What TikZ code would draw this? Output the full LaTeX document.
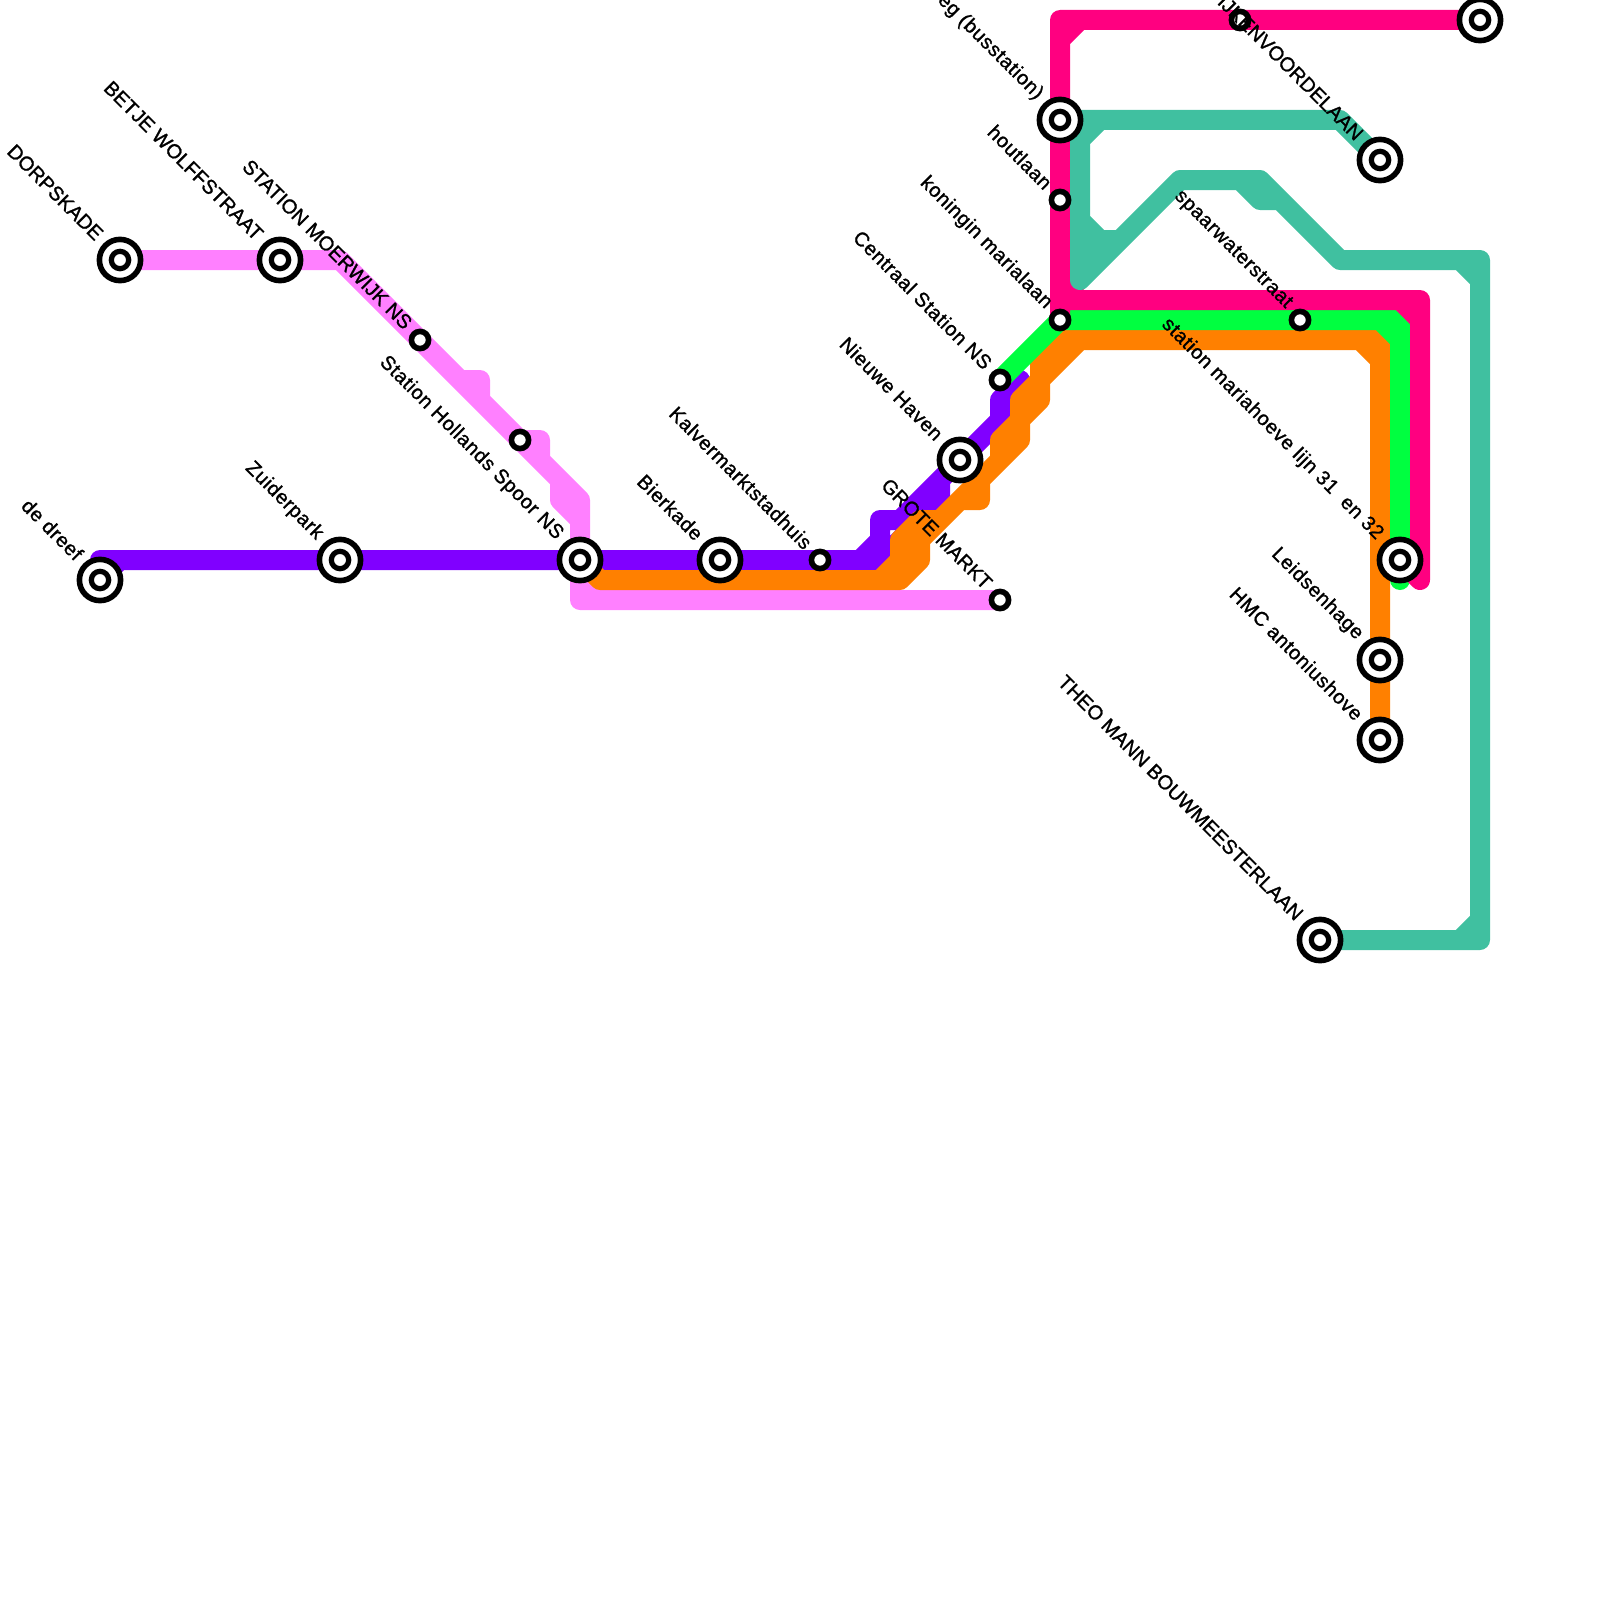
\documentclass[tikz,border=0pt]{standalone}
\usepackage{fontspec}
\setmainfont{Liberation Sans}[FakeBold=1.2]
\newfontfamily\lowerfont{Liberation Sans}[LetterSpace=3,FakeBold=1.2]
\usetikzlibrary{calc}
\pgfdeclarelayer{lines}
\pgfsetlayers{lines,main}
\definecolor{lpink}{HTML}{FF80FF}
\definecolor{lpurple}{HTML}{8000FF}
\definecolor{lorange}{HTML}{FF8000}
\definecolor{lgreen}{HTML}{00FF40}
\definecolor{lred}{HTML}{FF0080}
\definecolor{lteal}{HTML}{40C0A0}

\begin{document}
\begin{tikzpicture}[x=0.5pt, y=-0.5pt,
    mline/.style={line width=10pt, line join=round, line cap=round},
    stop/.style={circle, draw=black, fill=white, line width=2.8pt, inner sep=0pt, outer sep=0pt, minimum size=8.6pt},
    hub/.style={stop, minimum size=20.6pt,
                path picture={\draw[line width=2.6pt] (path picture bounding box.center) circle (4.35pt);}},
    lbl/.style={font=\fontsize{10pt}{12pt}\selectfont, anchor=east, rotate=-45, inner sep=0pt},
    lbllow/.style={lbl, font=\fontsize{10pt}{12pt}\lowerfont}]
    \useasboundingbox (0,0) rectangle (1600,1600);
    % stations
    \node[hub] (dorpskade) at (120,260) {};
    \node[hub] (betje) at (280,260) {};
    \node[stop] (moerwijk) at (420,340) {};
    \node[stop] (hollands) at (520,440) {};
    \node[hub] (hsns) at (580,560) {};
    \node[hub] (dreef) at (100,580) {};
    \node[hub] (zuiderpark) at (340,560) {};
    \node[hub] (bierkade) at (720,560) {};
    \node[stop] (kalver) at (820,560) {};
    \node[stop] (grote) at (1000,600) {};
    \node[hub] (haven) at (960,460) {};
    \node[stop] (centraal) at (1000,380) {};
    \node[stop] (koningin) at (1060,320) {};
    \node[stop] (houtlaan) at (1060,200) {};
    \node[hub] (bus) at (1060,120) {};
    \node[stop] (dijk) at (1240,20) {};
    \node[hub] (topright) at (1480,20) {};
    \node[hub] (voorde) at (1380,160) {};
    \node[stop] (spaar) at (1300,320) {};
    \node[hub] (maria) at (1400,560) {};
    \node[hub] (leidsen) at (1380,660) {};
    \node[hub] (hmc) at (1380,740) {};
    \node[hub] (theo) at (1320,940) {};
    % lines
    \begin{pgfonlayer}{lines}
    \draw[mline, lpink] (dorpskade.center) -- (betje.center) -- (340,260) -- (moerwijk.center)
      -- (hollands.center) -- (580,500) -- (hsns.center) -- (580,600) -- (grote.center)
      (460,380) -- (480,380) -- (480,400)
      (hollands.center) -- (540,440) -- (540,460)
      (560,480) -- (560,500) -- (580,520)
      (580,580) -- (600,600);
    \draw[mline, lpurple] (centraal.center) ++(20,0) -- (1000,400) -- (1000,420) -- (haven.center)
      -- (940,480) -- (940,500) -- (880,560) -- (kalver.center) -- (bierkade.center) -- (hsns.center)
      -- (zuiderpark.center) -- (100,560) -- (dreef.center)
      (dreef.center) -- (120,560)
      (haven.center) -- (900,520) -- (880,520) -- (880,540) -- (860,560);
    \draw[mline, lorange] (hmc.center) -- (leidsen.center) -- (1380,360) -- (1360,340) -- (1060,340)
      -- (1040,360) -- (1040,400) -- (1020,420) -- (1020,440) -- (920,540) -- (920,560) -- (900,580)
      -- (600,580) -- (hsns.center)
      (1380,360) -- (1380,340) -- (1360,340)
      (1080,340) -- (1020,400) -- (1020,420) -- (1000,440) -- (1000,460)
      (980,480) -- (980,500) -- (960,500)
      (940,520) -- (920,520) -- (900,540) -- (900,560) -- (880,580);
    \draw[mline, lgreen] (centraal.center) -- (koningin.center) -- (spaar.center) -- (1380,320) -- (1400,340)
      -- (maria.center) -- (1400,580)
      (1380,320) -- (1400,320) -- (1400,340);
    \draw[mline, lred] (topright.center) -- (dijk.center) -- (1060,20) -- (bus.center) -- (houtlaan.center)
      -- (koningin.center) ++(0,-20) -- (1400,300) -- (1420,320) -- (1420,580) -- (maria.center)
      (1060,40) -- (1080,20)
      (1060,280) -- (1080,300)
      (1400,300) -- (1420,300) -- (1420,320);
    \draw[mline, lteal] (voorde.center) -- (1340,120) -- (bus.center)
      (1100,120) -- (1080,140)
      (1080,120) -- (1080,280) -- (1180,180) -- (1260,180) -- (1340,260) -- (1460,260) -- (1480,280)
      -- (1480,920) -- (1460,940) -- (theo.center)
      (1460,260) -- (1480,260) -- (1480,280)
      (1480,920) -- (1480,940) -- (1460,940)
      (1080,220) -- (1100,240) -- (1120,240)
      (1100,240) -- (1080,260)
      (1240,180) -- (1260,200) -- (1280,200);
    \end{pgfonlayer}
    % labels
    \node[lbl] (dorpskade-t) at ($(dorpskade)+(-20,-23)$) {DORPSKADE};
    \node[lbl] (betje-t) at ($(betje)+(-20,-23)$) {BETJE WOLFFSTRAAT};
    \node[lbl] (moerwijk-t) at ($(moerwijk)+(-11,-14)$) {STATION MOERWIJK NS};
    \node[lbllow] (hsns-t) at ($(hsns)+(-20,-23)$) {Station Hollands Spoor NS};
    \node[lbllow] (dreef-t) at ($(dreef)+(-20,-23)$) {de dreef};
    \node[lbllow] (zuiderpark-t) at ($(zuiderpark)+(-20,-23)$) {Zuiderpark};
    \node[lbllow] (bierkade-t) at ($(bierkade)+(-20,-23)$) {Bierkade};
    \node[lbllow] (kalver-t) at ($(kalver)+(-11,-14)$) {Kalvermarktstadhuis};
    \node[lbl] (grote-t) at ($(grote)+(-11,-14)$) {GROTE MARKT};
    \node[lbllow] (haven-t) at ($(haven)+(-20,-23)$) {Nieuwe Haven};
    \node[lbllow] (centraal-t) at ($(centraal)+(-11,-14)$) {Centraal Station NS};
    \node[lbllow] (koningin-t) at ($(koningin)+(-11,-14)$) {koningin marialaan};
    \node[lbllow] (houtlaan-t) at ($(houtlaan)+(-11,-14)$) {houtlaan};
    \node[lbllow] (bus-t) at ($(bus)+(-20,-23)$) {eg (busstation)};
    \node[lbl] (voorde-t) at ($(voorde)+(-20,-23)$) {DIJKENVOORDELAAN};
    \node[lbllow] (spaar-t) at ($(spaar)+(-11,-14)$) {spaarwaterstraat};
    \node[lbllow] (maria-t) at ($(maria)+(-20,-23)$) {station mariahoeve lijn 31\ \ en 32};
    \node[lbllow] (leidsen-t) at ($(leidsen)+(-20,-23)$) {Leidsenhage};
    \node[lbllow] (hmc-t) at ($(hmc)+(-20,-23)$) {HMC antoniushove};
    \node[lbl] (theo-t) at ($(theo)+(-20,-23)$) {THEO MANN BOUWMEESTERLAAN};
\end{tikzpicture}
\end{document}
